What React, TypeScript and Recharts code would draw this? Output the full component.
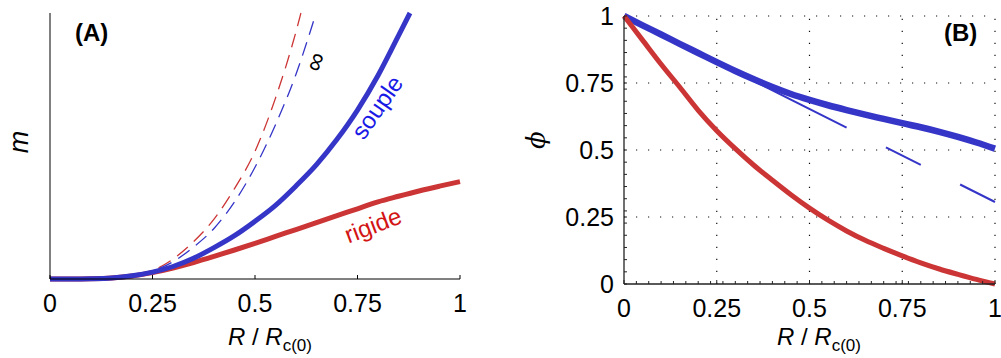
import React from 'react';
import { LineChart, Line, XAxis, YAxis, ReferenceLine } from 'recharts';

// panel (A): m versus R / Rc(0)
const mX = [0, 0.05, 0.1, 0.15, 0.2, 0.25, 0.3, 0.35, 0.4, 0.45, 0.5, 0.55, 0.6, 0.65, 0.7, 0.75, 0.8, 0.85, 0.9, 0.95, 1];
const mRigide = [0, 0, 0.001, 0.004, 0.011, 0.024, 0.041, 0.062, 0.085, 0.109, 0.134, 0.16, 0.186, 0.212, 0.238, 0.264, 0.29, 0.311, 0.331, 0.349, 0.366];
const mSoupleX = [0, 0.05, 0.1, 0.15, 0.2, 0.25, 0.3, 0.35, 0.4, 0.45, 0.5, 0.55, 0.6, 0.65, 0.7, 0.75, 0.8, 0.85, 0.878];
const mSouple = [0, 0, 0.001, 0.004, 0.012, 0.026, 0.047, 0.078, 0.118, 0.163, 0.217, 0.277, 0.35, 0.43, 0.525, 0.635, 0.765, 0.915, 1.0];
const mInfRigideX = [0, 0.05, 0.1, 0.15, 0.2, 0.25, 0.3, 0.35, 0.4, 0.45, 0.5, 0.55, 0.6, 0.612];
const mInfRigide = [0, 0, 0.001, 0.004, 0.013, 0.032, 0.075, 0.14, 0.225, 0.34, 0.48, 0.68, 0.93, 1.0];
const mInfSoupleX = [0, 0.05, 0.1, 0.15, 0.2, 0.25, 0.3, 0.35, 0.4, 0.45, 0.5, 0.55, 0.6, 0.645];
const mInfSouple = [0, 0, 0.001, 0.004, 0.012, 0.03, 0.065, 0.12, 0.19, 0.29, 0.42, 0.58, 0.77, 0.98];

// panel (B): phi versus R / Rc(0)
const phiX = [0, 0.05, 0.1, 0.15, 0.2, 0.25, 0.3, 0.35, 0.4, 0.45, 0.5, 0.55, 0.6, 0.65, 0.7, 0.75, 0.8, 0.85, 0.9, 0.95, 1];
const phiSouple = [1, 0.965, 0.931, 0.896, 0.862, 0.828, 0.795, 0.764, 0.735, 0.709, 0.687, 0.667, 0.649, 0.632, 0.616, 0.6, 0.585, 0.568, 0.549, 0.528, 0.505];
const phiRigide = [1, 0.91, 0.82, 0.735, 0.648, 0.572, 0.505, 0.443, 0.387, 0.333, 0.283, 0.238, 0.198, 0.163, 0.133, 0.105, 0.079, 0.056, 0.036, 0.017, 0];
const phiLinX = [0, 1];
const phiLin = [1, 0.306];

const xTicks = [0, 0.25, 0.5, 0.75, 1];
const xTickLabels = ['0', '0.25', '0.5', '0.75', '1'];
const yTicksB = [0, 0.25, 0.5, 0.75, 1];
const yTickLabelsB = ['0', '0.25', '0.5', '0.75', '1'];
const gridB = [0.25, 0.5, 0.75, 1];

const BLUE = '#3535c8';
const RED = '#cc3535';
const FONT = '"Liberation Sans", Arial, Helvetica, sans-serif';
const TICK_FS = 25;

const toPts = (xs: number[], ys: number[]) => xs.map((x, i) => ({ x, y: ys[i] }));

const isMajor = (v: number, ticks: number[]) => ticks.some((t) => Math.abs(t - v) < 1e-9);

// minor ticks along the axes of panel (B), skipping the labelled ones
const minorX = Array.from({ length: 29 }, (_, i) => (i + 1) / 30).filter((v) => !isMajor(v, xTicks));
const minorY = Array.from({ length: 21 }, (_, i) => (i + 1) / 22).filter((v) => !isMajor(v, yTicksB));

const labelOf = (v: number, ticks: number[], labels: string[]) => {
  const i = ticks.findIndex((t) => Math.abs(t - v) < 1e-9);
  return i >= 0 ? labels[i] : null;
};

const BottomTick = (props: any) => {
  const { x, y, payload, labelY, color, len } = props;
  const label = labelOf(payload.value, xTicks, xTickLabels);
  return (
    <g>
      <line x1={x} y1={y} x2={x} y2={y - (label ? len : 3)} stroke={color} strokeWidth={1} />
      {label && (
        <text x={x} y={y + labelY} textAnchor="middle" fontSize={TICK_FS} fontFamily={FONT} fill="#000">
          {label}
        </text>
      )}
    </g>
  );
};

const LeftTick = (props: any) => {
  const { x, y, payload } = props;
  const label = labelOf(payload.value, yTicksB, yTickLabelsB);
  return (
    <g>
      <line x1={x} y1={y} x2={x + 3} y2={y} stroke="#222" strokeWidth={1} />
      {label && (
        <text x={x - 10} y={y + 9} textAnchor="end" fontSize={TICK_FS} fontFamily={FONT} fill="#000">
          {label}
        </text>
      )}
    </g>
  );
};

function PanelA() {
  return (
    <LineChart width={480} height={358} margin={{ top: 13, right: 20, bottom: 78, left: 49 }}>
      <XAxis
        type="number"
        dataKey="x"
        domain={[0, 1]}
        ticks={xTicks}
        interval={0}
        height={1}
        tickSize={0}
        tickMargin={0}
        axisLine={{ stroke: '#000', strokeWidth: 1 }}
        tickLine={false}
        tick={<BottomTick labelY={33} color="#000" len={4} />}
      />
      <YAxis type="number" domain={[0, 1]} width={1} tick={false} tickLine={false} axisLine={{ stroke: '#000', strokeWidth: 1 }} />
      <Line data={toPts(mInfRigideX, mInfRigide)} dataKey="y" type="monotone" stroke={RED} strokeWidth={1.3} strokeDasharray="14 8" dot={false} isAnimationActive={false} />
      <Line data={toPts(mInfSoupleX, mInfSouple)} dataKey="y" type="monotone" stroke={BLUE} strokeWidth={1.3} strokeDasharray="14 8" dot={false} isAnimationActive={false} />
      <Line data={toPts(mX, mRigide)} dataKey="y" type="monotone" stroke={RED} strokeWidth={5} dot={false} isAnimationActive={false} />
      <Line data={toPts(mSoupleX, mSouple)} dataKey="y" type="monotone" stroke={BLUE} strokeWidth={5} dot={false} isAnimationActive={false} />
    </LineChart>
  );
}

function PanelB() {
  return (
    <LineChart width={481} height={358} margin={{ top: 16, right: 6, bottom: 73, left: 103 }}>
      <XAxis
        type="number"
        dataKey="x"
        domain={[0, 1]}
        ticks={[...xTicks, ...minorX]}
        interval={0}
        height={1}
        tickSize={0}
        tickMargin={0}
        axisLine={{ stroke: '#222', strokeWidth: 1.3 }}
        tickLine={false}
        tick={<BottomTick labelY={33} color="#222" len={4} />}
      />
      <YAxis
        type="number"
        domain={[0, 1]}
        ticks={[...yTicksB, ...minorY]}
        interval={0}
        width={1}
        tickSize={0}
        tickMargin={0}
        tickLine={false}
        axisLine={{ stroke: '#222', strokeWidth: 1.3 }}
        tick={<LeftTick />}
      />
      {gridB.map((g) => (
        <ReferenceLine key={'gx' + g} x={g} stroke="#111" strokeWidth={1.2} strokeDasharray="1.2 10.8" />
      ))}
      {gridB.map((g) => (
        <ReferenceLine key={'gy' + g} y={g} stroke="#111" strokeWidth={1.2} strokeDasharray="1.2 10.8" />
      ))}
      <Line data={toPts(phiX, phiSouple)} dataKey="y" type="monotone" stroke={BLUE} strokeWidth={6.5} dot={false} isAnimationActive={false} />
      <Line data={toPts(phiLinX, phiLin)} dataKey="y" type="linear" stroke={BLUE} strokeWidth={2} strokeDasharray="249 44 39 44 39" dot={false} isAnimationActive={false} />
      <Line data={toPts(phiX, phiRigide)} dataKey="y" type="monotone" stroke={RED} strokeWidth={5} dot={false} isAnimationActive={false} />
    </LineChart>
  );
}

export default function App() {
  return (
    <div style={{ position: 'absolute', left: 0, top: 0, width: 1001, height: 358, background: '#fff', overflow: 'hidden' }}>
      <div style={{ position: 'absolute', left: 0, top: 0 }}>
        <PanelA />
      </div>
      <div style={{ position: 'absolute', left: 520, top: 0 }}>
        <PanelB />
      </div>
      <svg width={1001} height={358} style={{ position: 'absolute', left: 0, top: 0, pointerEvents: 'none' }} fontFamily={FONT}>
        <text x={75} y={41} fontSize={24} fontWeight="bold" fill="#000">(A)</text>
        <text x={944} y={41} fontSize={24} fontWeight="bold" fill="#000">(B)</text>
        <text x={28} y={142} fontSize={27} fontStyle="italic" textAnchor="middle" transform="rotate(-90 28 142)" fill="#000">m</text>
        <text x={545} y={140} fontSize={26} fontStyle="italic" fontFamily='"DejaVu Serif", serif' textAnchor="middle" transform="rotate(-90 545 140)" fill="#000">ϕ</text>
        <text x={228} y={345} fontSize={24} fill="#000">
          <tspan fontStyle="italic">R</tspan>
          <tspan> / </tspan>
          <tspan fontStyle="italic">R</tspan>
          <tspan fontSize={17} dy={6}>c(0)</tspan>
        </text>
        <text x={777} y={345} fontSize={24} fill="#000">
          <tspan fontStyle="italic">R</tspan>
          <tspan> / </tspan>
          <tspan fontStyle="italic">R</tspan>
          <tspan fontSize={17} dy={6}>c(0)</tspan>
        </text>
        <text x={384} y={112} fontSize={24} textAnchor="middle" transform="rotate(-55 384 112)" fill="#1a1ae6">souple</text>
        <text x={376} y={233} fontSize={24} textAnchor="middle" transform="rotate(-21 376 233)" fill="#d21414">rigide</text>
        <text x={316} y={70} fontSize={26} textAnchor="middle" transform="rotate(-70 316 62)" fill="#000">∞</text>
      </svg>
    </div>
  );
}
